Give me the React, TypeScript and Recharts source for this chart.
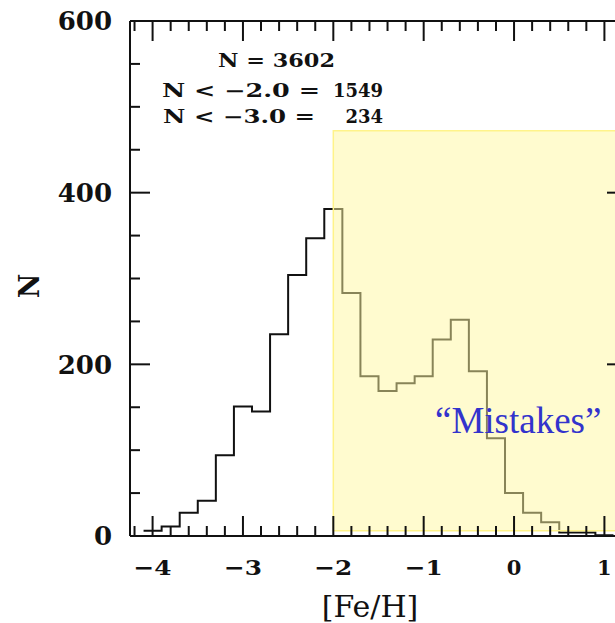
import { ComposedChart, Line, XAxis, YAxis, ReferenceArea } from "recharts";

// metallicity histogram, 0.2 dex bins
const binCenters = [
  -4.0, -3.8, -3.6, -3.4, -3.2, -3.0, -2.8, -2.6, -2.4, -2.2, -2.0, -1.8, -1.6,
  -1.4, -1.2, -1.0, -0.8, -0.6, -0.4, -0.2, 0.0, 0.2, 0.4, 0.6, 0.8, 1.0,
];
const counts = [
  6, 11, 27, 41, 94, 151, 145, 235, 304, 347, 381, 283, 186,
  169, 178, 186, 229, 252, 192, 114, 50, 27, 16, 4, 4, 1,
];
const binWidth = 0.2;

const xTicks = [
  -4.2, -4.0, -3.8, -3.6, -3.4, -3.2, -3.0, -2.8, -2.6, -2.4, -2.2, -2.0, -1.8,
  -1.6, -1.4, -1.2, -1.0, -0.8, -0.6, -0.4, -0.2, 0.0, 0.2, 0.4, 0.6, 0.8, 1.0, 1.2,
];
const yTicks = [0, 50, 100, 150, 200, 250, 300, 350, 400, 450, 500, 550, 600];

// highlighted metal-rich region
const highlightFrom = -2.0;
const highlightTo = 1.25;
const highlightLow = 6;
const highlightHigh = 472;

const totalCount = 3602;
const belowMinus2 = 1549;
const belowMinus3 = 234;

const ink = "#111";
const tickFont = "'DejaVu Serif', serif";

// step line needs one point per left bin edge plus the closing edge
const stepData = binCenters.map((c, i) => ({ x: c - binWidth / 2, n: counts[i] }));
stepData.push({ x: binCenters[binCenters.length - 1] + binWidth / 2, n: counts[counts.length - 1] });

const isMajor = (v: number) => Math.abs(v - Math.round(v)) < 1e-6;
const fmt = (v: number) => (v < 0 ? `\u2212${Math.abs(Math.round(v))}` : `${Math.round(v)}`);
const isMajorY = (v: number) => v % 200 === 0;

function BottomTick({ x, y, payload }: any) {
  const v = payload.value;
  const major = isMajor(v);
  const label = fmt(v);
  return (
    <g>
      <line x1={x} y1={y} x2={x} y2={y - (major ? 20 : 10)} stroke={ink} strokeWidth={2} />
      {major && (
        <text
          x={x}
          y={y + 39}
          textAnchor="middle"
          textLength={label.length > 1 ? 38 : undefined}
          lengthAdjust="spacingAndGlyphs"
          fontFamily={tickFont}
          fontWeight="bold"
          fontSize={21}
          fill={ink}
        >
          {label}
        </text>
      )}
    </g>
  );
}

function TopTick({ x, y, payload }: any) {
  const major = isMajor(payload.value);
  return <line x1={x} y1={y} x2={x} y2={y + (major ? 20 : 10)} stroke={ink} strokeWidth={2} />;
}

function LeftTick({ x, y, payload }: any) {
  const v = payload.value;
  const major = isMajorY(v);
  return (
    <g>
      <line x1={x} y1={y} x2={x + (major ? 20 : 10)} y2={y} stroke={ink} strokeWidth={2} />
      {major && (
        <text x={x - 18} y={y} dy="0.36em" textAnchor="end" fontFamily={tickFont} fontWeight="bold" fontSize={26} fill={ink}>
          {v}
        </text>
      )}
    </g>
  );
}

function RightTick({ x, y, payload }: any) {
  const major = isMajorY(payload.value);
  return <line x1={x} y1={y} x2={x - (major ? 20 : 10)} y2={y} stroke={ink} strokeWidth={2} />;
}

export default function App() {
  const statStyle = { fontFamily: tickFont, fontWeight: "bold" as const, fontSize: 18, fill: ink };
  return (
    <div style={{ position: "fixed", left: 0, top: 0, width: 615, height: 623, overflow: "hidden", background: "#fff" }}>
      <ComposedChart width={700} height={623} data={stepData} margin={{ top: 1, right: 33, bottom: 0, left: 0 }}>
        <XAxis
          xAxisId="b"
          dataKey="x"
          type="number"
          domain={[-4.25, 1.25]}
          ticks={xTicks}
          interval={0}
          allowDataOverflow
          height={87}
          tickSize={0}
          tickMargin={0}
          tickLine={false}
          axisLine={{ stroke: ink, strokeWidth: 2 }}
          tick={<BottomTick />}
        />
        <XAxis
          xAxisId="t"
          orientation="top"
          dataKey="x"
          type="number"
          domain={[-4.25, 1.25]}
          ticks={xTicks}
          interval={0}
          allowDataOverflow
          height={20}
          tickSize={0}
          tickMargin={0}
          tickLine={false}
          axisLine={{ stroke: ink, strokeWidth: 2 }}
          tick={<TopTick />}
        />
        <YAxis
          yAxisId="l"
          type="number"
          domain={[0, 600]}
          ticks={yTicks}
          interval={0}
          allowDataOverflow
          width={130}
          tickSize={0}
          tickMargin={0}
          tickLine={false}
          axisLine={{ stroke: ink, strokeWidth: 2 }}
          tick={<LeftTick />}
        />
        <YAxis
          yAxisId="r"
          orientation="right"
          type="number"
          domain={[0, 600]}
          ticks={yTicks}
          interval={0}
          allowDataOverflow
          width={40}
          tickSize={0}
          tickMargin={0}
          tickLine={false}
          axisLine={{ stroke: ink, strokeWidth: 2 }}
          tick={<RightTick />}
        />
        <Line
          xAxisId="b"
          yAxisId="l"
          type="stepAfter"
          dataKey="n"
          stroke={ink}
          strokeWidth={2}
          dot={false}
          activeDot={false}
          isAnimationActive={false}
        />
        <ReferenceArea
          xAxisId="b"
          yAxisId="l"
          x1={highlightFrom}
          x2={highlightTo}
          y1={highlightLow}
          y2={highlightHigh}
          fill="#fff7a0"
          fillOpacity={0.5}
          stroke="#fff38a"
          strokeWidth={1.5}
          ifOverflow="hidden"
          zIndex={450}
        />
      </ComposedChart>
      <svg width={615} height={623} style={{ position: "absolute", left: 0, top: 0, pointerEvents: "none" }}>
        <text x={218} y={67} textLength={117} lengthAdjust="spacingAndGlyphs" {...statStyle} style={{ whiteSpace: "pre" }}>
          {`N = ${totalCount}`}
        </text>
        <text x={162} y={97} textLength={158} lengthAdjust="spacingAndGlyphs" {...statStyle} style={{ whiteSpace: "pre" }}>
          {"N < \u22122.0 ="}
        </text>
        <text x={383} y={97} textAnchor="end" {...statStyle}>
          {belowMinus2}
        </text>
        <text x={163} y={123} textLength={152} lengthAdjust="spacingAndGlyphs" {...statStyle} style={{ whiteSpace: "pre" }}>
          {"N < \u22123.0 ="}
        </text>
        <text x={383} y={123} textAnchor="end" {...statStyle}>
          {belowMinus3}
        </text>
        <text x={435} y={433} fontFamily="'Liberation Serif', 'Times New Roman', serif" fontSize={37} fill="#3333cc">
          {"\u201cMistakes\u201d"}
        </text>
        <text x={370} y={617} textAnchor="middle" fontFamily={tickFont} fontSize={30} fill={ink}>
          [Fe/H]
        </text>
        <text
          x={29}
          y={286}
          textAnchor="middle"
          dy="0.36em"
          transform="rotate(-90 29 286)"
          fontFamily={tickFont}
          fontWeight="bold"
          fontSize={27}
          fill={ink}
        >
          N
        </text>
      </svg>
    </div>
  );
}
